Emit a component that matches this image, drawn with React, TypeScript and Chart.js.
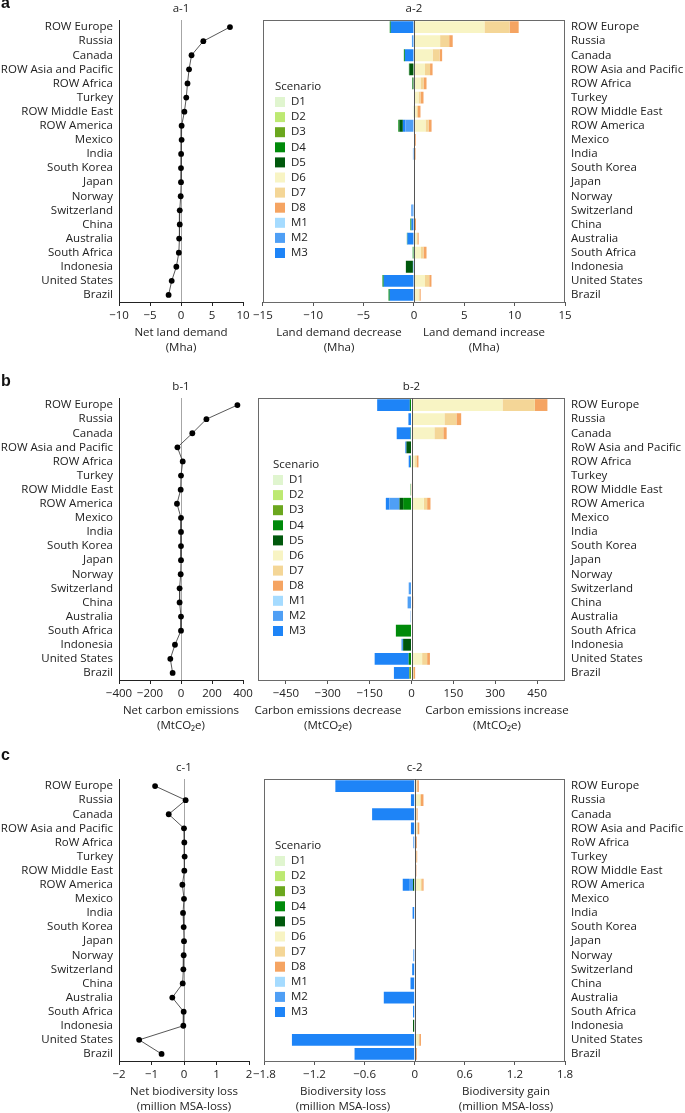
import React, { useEffect, useRef } from 'react';
import { Chart, registerables } from 'chart.js';
Chart.register(...registerables);

const FONT = "'Open Sans', 'Noto Sans', 'DejaVu Sans', sans-serif";
const FS = 11.5;
const TXT = '#222';
Chart.defaults.font.family = FONT;
Chart.defaults.font.size = FS;
Chart.defaults.color = TXT;

// ---------- categories ----------
const regionsA = ['ROW Europe', 'Russia', 'Canada', 'ROW Asia and Pacific', 'ROW Africa', 'Turkey', 'ROW Middle East', 'ROW America', 'Mexico', 'India', 'South Korea', 'Japan', 'Norway', 'Switzerland', 'China', 'Australia', 'South Africa', 'Indonesia', 'United States', 'Brazil'];
const regionsBLeft = ['ROW Europe', 'Russia', 'Canada', 'ROW Asia and Pacific', 'ROW Africa', 'Turkey', 'ROW Middle East', 'ROW America', 'Mexico', 'India', 'South Korea', 'Japan', 'Norway', 'Switzerland', 'China', 'Australia', 'South Africa', 'Indonesia', 'United States', 'Brazil'];
const regionsBRight = ['ROW Europe', 'Russia', 'Canada', 'RoW Asia and Pacific', 'ROW Africa', 'Turkey', 'ROW Middle East', 'ROW America', 'Mexico', 'India', 'South Korea', 'Japan', 'Norway', 'Switzerland', 'China', 'Australia', 'South Africa', 'Indonesia', 'United States', 'Brazil'];
const regionsC = ['ROW Europe', 'Russia', 'Canada', 'ROW Asia and Pacific', 'RoW Africa', 'Turkey', 'ROW Middle East', 'ROW America', 'Mexico', 'India', 'South Korea', 'Japan', 'Norway', 'Switzerland', 'China', 'Australia', 'South Africa', 'Indonesia', 'United States', 'Brazil'];

const scenarios = ['D1', 'D2', 'D3', 'D4', 'D5', 'D6', 'D7', 'D8', 'M1', 'M2', 'M3'];
const scenarioColors = ['#e0f5cf', '#bde972', '#6ba71e', '#008a0a', '#00580c', '#f8f4c4', '#f4d697', '#f5a462', '#a5dbff', '#4f9ff5', '#1e84f7'];

// ---------- panel a: land demand (Mha) ----------
const landNet = [7.9, 3.6, 1.7, 1.3, 1.05, 0.85, 0.55, 0.1, 0.1, 0.02, 0, 0, -0.05, -0.2, -0.2, -0.3, -0.35, -0.75, -1.5, -2.0];
const landD1 = [0, 0, 0, 0, 0, 0, -0.1, 0, 0, 0, 0, 0, 0, 0, 0, 0, 0, 0, 0, 0];
const landD4 = [-0.1, 0, -0.1, -0.05, -0.05, 0, 0, -0.1, 0, 0, 0, 0, 0, 0, -0.1, -0.05, -0.12, 0, -0.12, -0.12];
const landD5 = [0, 0, 0, -0.45, -0.12, 0, 0, -0.35, 0, 0, 0, 0, 0, 0, 0, 0, 0, -0.7, 0, 0];
const landD6 = [7.0, 2.6, 1.85, 1.1, 0.65, 0.45, 0.25, 1.15, 0.05, 0.03, 0, 0, 0, 0, 0.05, 0.3, 0.7, 0, 1.1, 0.45];
const landD7 = [2.5, 0.9, 0.7, 0.5, 0.3, 0.2, 0.15, 0.3, 0.03, 0.03, 0, 0, 0, 0, 0.05, 0.05, 0.25, 0, 0.42, 0.12];
const landD8 = [0.9, 0.35, 0.25, 0.25, 0.3, 0.3, 0.25, 0.3, 0.1, 0.1, 0, 0, 0, 0, 0.1, 0.12, 0.3, 0, 0.22, 0.1];
const landM2 = [0, -0.2, 0, 0, 0, 0, 0, -0.85, 0, -0.1, 0, 0, -0.05, -0.15, 0, 0, 0, -0.1, 0, 0];
const landM3 = [-2.3, 0, -0.9, 0, 0, 0, 0, -0.25, 0, 0, 0, 0, 0, -0.1, -0.25, -0.65, 0, 0, -3.0, -2.4];
const landTicksLeft = [-10, -5, 0, 5, 10];
const landTicksRight = [-15, -10, -5, 0, 5, 10, 15];

// ---------- panel b: carbon emissions (MtCO2e) ----------
const carbonNet = [364, 164, 73, -23, 11, 0, -2, -26, 0, 0, 0, 0, -2, -9, -9, 0, 0, -39, -69, -54];
const carbonD3 = [0, 0, 0, 0, 0, 0, 0, 0, 0, 0, 0, 0, 0, 0, 0, 0, 0, 0, 0, -8];
const carbonD4 = [-6, 0, -3, 0, -4, 0, -3, -30, 0, 0, 0, 0, 0, 0, 0, 0, -56, 0, -10, 0];
const carbonD5 = [0, 0, 0, -18, 0, 0, 0, -13, 0, 0, 0, 0, 0, 0, 0, 0, 0, -30, 0, 0];
const carbonD6 = [326, 118, 82, 0, 13, 0, 0, 44, 0, 0, 0, 0, 0, 0, 0, 0, 0, 0, 38, 5];
const carbonD7 = [116, 43, 32, 0, 6, 0, 0, 12, 0, 0, 0, 0, 0, 0, 2, 0, 0, 0, 18, 4];
const carbonD8 = [45, 17, 12, 0, 6, 4, 1, 12, 0, 0, 0, 0, 0, 0, 4, 2, 0, 0, 10, 4];
const carbonM2 = [0, 0, 0, 0, 0, 0, 0, -36, 0, 0, 0, 0, -2, -10, -14, -3, 0, -6, 0, 0];
const carbonM3 = [-117, -11, -50, -4, -6, 0, 0, -13, 0, 0, 0, 0, 0, 0, 0, 0, 0, 0, -122, -55];
const carbonTicksLeft = [-400, -200, 0, 200, 400];
const carbonTicksRight = [-450, -300, -150, 0, 150, 300, 450];

// ---------- panel c: biodiversity (million MSA-loss) ----------
const bioNet = [-0.89, 0.05, -0.47, 0, 0.01, 0.02, 0.01, -0.05, 0, -0.03, -0.01, 0, -0.01, -0.02, -0.04, -0.36, -0.01, -0.02, -1.38, -0.69];
const bioD5 = [0, 0, 0, 0, 0, 0, 0, -0.02, 0, 0, 0, 0, 0, 0, 0, 0, 0, -0.02, 0, 0];
const bioD6 = [0.02, 0.065, 0.015, 0.025, 0.005, 0.01, 0.005, 0.07, 0, 0, 0, 0, 0, 0, 0, 0.005, 0, 0, 0.045, 0.01];
const bioD7 = [0.01, 0.01, 0.01, 0.01, 0.005, 0.01, 0.005, 0.02, 0, 0, 0, 0, 0, 0, 0, 0, 0, 0, 0.01, 0.005];
const bioD8 = [0.02, 0.03, 0.01, 0.02, 0.015, 0.01, 0.01, 0.016, 0, 0, 0, 0, 0, 0, 0, 0.01, 0, 0, 0.02, 0.01];
const bioM2 = [0, 0, 0, 0, 0, 0, 0, -0.048, 0, 0, 0, 0, 0, 0, 0, 0, 0, 0, 0, 0];
const bioM3 = [-0.95, -0.045, -0.51, -0.045, -0.015, 0, 0, -0.075, 0, -0.025, 0, 0, -0.015, -0.03, -0.05, -0.37, -0.02, 0, -1.47, -0.72];
const bioTicksLeft = [-2, -1, 0, 1, 2];
const bioTicksRight = [-1.8, -1.2, -0.6, 0, 0.6, 1.2, 1.8];

const PLOT_H = 282;
const fmt = (v: number) => {
  const r = Math.round(v * 100) / 100;
  return r < 0 ? '\u2212' + String(-r) : String(r);
};
const font = { family: FONT, size: FS };

function makeAnnot(cfg: any) {
  return {
    id: 'annot',
    afterDatasetsDraw(chart: any) {
      const { ctx, chartArea: ca } = chart;
      ctx.save();
      if (cfg.box) {
        ctx.strokeStyle = '#6a6a6a';
        ctx.lineWidth = 1;
        ctx.strokeRect(Math.round(ca.left) + 0.5, Math.round(ca.top) + 0.5, Math.round(ca.right - ca.left) - 1, Math.round(ca.bottom - ca.top));
        const x = Math.round(chart.scales.x.getPixelForValue(0)) + 0.5;
        ctx.strokeStyle = '#555';
        ctx.beginPath();
        ctx.moveTo(x, ca.top);
        ctx.lineTo(x, ca.bottom);
        ctx.stroke();
      }
      ctx.restore();
    },
    afterDraw(chart: any) {
      const { ctx, chartArea: ca } = chart;
      ctx.save();
      ctx.font = `${FS}px ${FONT}`;
      ctx.fillStyle = TXT;
      ctx.textBaseline = 'middle';
      ctx.textAlign = 'center';
      ctx.fillText(cfg.title, (ca.left + ca.right) / 2, ca.top - 11);
      for (const t of cfg.xTitles) {
        const cx = t.x === undefined ? (ca.left + ca.right) / 2 : t.x;
        t.lines.forEach((ln: string, i: number) => ctx.fillText(ln, cx, ca.bottom + 31 + i * 14.5));
      }
      if (cfg.legendX !== undefined) {
        ctx.textAlign = 'left';
        const lx = cfg.legendX;
        ctx.fillText('Scenario', lx, ca.top + 67);
        scenarios.forEach((s, i) => {
          const y = ca.top + 82 + i * 15.1;
          ctx.fillStyle = scenarioColors[i];
          ctx.fillRect(lx, y - 5, 10, 10);
          ctx.fillStyle = TXT;
          ctx.fillText(s, lx + 16, y);
        });
      }
      ctx.restore();
    },
  };
}

function leftConfig(labels: string[], values: number[], ticks: number[], padTop: number, axisH: number, padRight: number, title: string, xTitle: string[]) {
  return {
    type: 'line',
    data: {
      labels,
      datasets: [{
        data: values,
        borderColor: '#444',
        borderWidth: 0.9,
        pointRadius: 2.9,
        pointBackgroundColor: '#000',
        pointBorderColor: '#000',
        pointBorderWidth: 0,
        fill: false,
        tension: 0,
      }],
    },
    options: {
      indexAxis: 'y',
      animation: false,
      responsive: false,
      devicePixelRatio: 1,
      layout: { padding: { top: padTop, right: padRight, left: 0, bottom: 0 } },
      plugins: { legend: { display: false }, tooltip: { enabled: false }, title: { display: false } },
      scales: {
        y: {
          type: 'category',
          offset: true,
          grid: { display: false, drawTicks: false },
          border: { display: true, color: '#222', width: 1 },
          ticks: { padding: 6, color: TXT, font, autoSkip: false },
          afterFit: (s: any) => { s.width = 119; },
        },
        x: {
          type: 'linear',
          min: ticks[0],
          max: ticks[ticks.length - 1],
          afterBuildTicks: (s: any) => { s.ticks = ticks.map((v) => ({ value: v })); },
          ticks: { color: TXT, font, padding: 3, maxRotation: 0, callback: (v: any) => fmt(Number(v)) },
          grid: {
            drawOnChartArea: true,
            color: (c: any) => (c.tick && c.tick.value === 0 ? '#a6a6a6' : 'rgba(0,0,0,0)'),
            tickColor: '#222',
            tickLength: 4,
            lineWidth: 1,
          },
          border: { display: true, color: '#222', width: 1 },
          afterFit: (s: any) => { s.height = axisH; },
        },
      },
    },
    plugins: [makeAnnot({ title, xTitles: [{ lines: xTitle }] })],
  };
}

function rightConfig(labels: string[], series: Record<string, number[]>, order: string[], ticks: number[], range: number, padTop: number, axisH: number, padLeft: number, title: string, xTitles: any[], legendX: number) {
  const datasets = order.filter((k) => series[k]).map((k) => ({
    label: k,
    data: series[k],
    backgroundColor: scenarioColors[scenarios.indexOf(k)],
    borderWidth: 0,
    barPercentage: 0.84,
    categoryPercentage: 1,
  }));
  return {
    type: 'bar',
    data: { labels, datasets },
    options: {
      indexAxis: 'y',
      animation: false,
      responsive: false,
      devicePixelRatio: 1,
      layout: { padding: { top: padTop, left: padLeft, right: 0, bottom: 0 } },
      plugins: { legend: { display: false }, tooltip: { enabled: false }, title: { display: false } },
      scales: {
        x: {
          type: 'linear',
          stacked: true,
          min: -range,
          max: range,
          afterBuildTicks: (s: any) => { s.ticks = ticks.map((v) => ({ value: v })); },
          ticks: { color: TXT, font, padding: 3, maxRotation: 0, callback: (v: any) => fmt(Number(v)) },
          grid: { drawOnChartArea: false, tickColor: '#555', tickLength: 4, color: '#555' },
          border: { display: false },
          afterFit: (s: any) => { s.height = axisH; },
        },
        y: {
          type: 'category',
          stacked: true,
          position: 'right',
          offset: true,
          grid: { display: false, drawTicks: false },
          border: { display: false },
          ticks: { padding: 6, color: TXT, font, autoSkip: false },
          afterFit: (s: any) => { s.width = 120; },
        },
      },
    },
    plugins: [makeAnnot({ title, xTitles, legendX, box: true })],
  };
}

function ChartCanvas({ config, left, top, width, height }: any) {
  const ref = useRef<HTMLCanvasElement>(null);
  useEffect(() => {
    if (!ref.current) return;
    const chart = new Chart(ref.current, config);
    return () => chart.destroy();
  }, []);
  return (
    <canvas
      ref={ref}
      width={width}
      height={height}
      style={{ position: 'absolute', left, top, width, height, display: 'block' }}
    />
  );
}

const orderA = ['M1', 'M2', 'M3', 'D5', 'D4', 'D3', 'D2', 'D1', 'D6', 'D7', 'D8'];
const orderBC = ['D1', 'D2', 'D3', 'D4', 'D5', 'D6', 'D7', 'D8', 'M1', 'M2', 'M3'];

export default function App() {
  const panels = [
    {
      letter: 'a', letterTop: -5, top: 0, padTop: 20, axisH: 58,
      left: leftConfig(regionsA, landNet, landTicksLeft, 20, 58, 17, 'a-1', ['Net land demand', '(Mha)']),
      right: rightConfig(regionsA, { D1: landD1, D4: landD4, D5: landD5, D6: landD6, D7: landD7, D8: landD8, M2: landM2, M3: landM3 }, orderA, landTicksRight, 15, 20, 58, 7, 'a-2',
        [{ x: 89, lines: ['Land demand decrease', '(Mha)'] }, { x: 234, lines: ['Land demand increase', '(Mha)'] }], 25),
    },
    {
      letter: 'b', letterTop: 372.5, top: 378, padTop: 20, axisH: 58,
      left: leftConfig(regionsBLeft, carbonNet, carbonTicksLeft, 20, 58, 17, 'b-1', ['Net carbon emissions', '(MtCO\u2082e)']),
      right: rightConfig(regionsBRight, { D3: carbonD3, D4: carbonD4, D5: carbonD5, D6: carbonD6, D7: carbonD7, D8: carbonD8, M2: carbonM2, M3: carbonM3 }, orderBC, carbonTicksRight, 550, 20, 58, 8, 'b-2',
        [{ x: 78, lines: ['Carbon emissions decrease', '(MtCO\u2082e)'] }, { x: 247, lines: ['Carbon emissions increase', '(MtCO\u2082e)'] }], 23),
    },
    {
      letter: 'c', letterTop: 746.5, top: 757, padTop: 22, axisH: 52,
      left: leftConfig(regionsC, bioNet, bioTicksLeft, 22, 52, 11, 'c-1', ['Net biodiversity loss', '(million MSA-loss)']),
      right: rightConfig(regionsC, { D5: bioD5, D6: bioD6, D7: bioD7, D8: bioD8, M2: bioM2, M3: bioM3 }, orderBC, bioTicksRight, 1.8, 22, 52, 13, 'c-2',
        [{ x: 93, lines: ['Biodiversity loss', '(million MSA-loss)'] }, { x: 256, lines: ['Biodiversity gain', '(million MSA-loss)'] }], 25),
    },
  ];
  return (
    <div style={{ position: 'absolute', left: 0, top: 0, width: 685, height: 1113, overflow: 'hidden', background: '#fff' }}>
      {panels.map((p) => {
        const h = p.padTop + PLOT_H + p.axisH;
        return (
          <React.Fragment key={p.letter}>
            <ChartCanvas config={p.left} left={0} top={p.top} width={260} height={h} />
            <ChartCanvas config={p.right} left={250} top={p.top} width={435} height={h} />
            <div style={{ position: 'absolute', left: 1, top: p.letterTop, fontFamily: "'Liberation Sans', Arial, sans-serif", fontWeight: 'bold', fontSize: 16, lineHeight: '16px', color: '#111' }}>{p.letter}</div>
          </React.Fragment>
        );
      })}
    </div>
  );
}
